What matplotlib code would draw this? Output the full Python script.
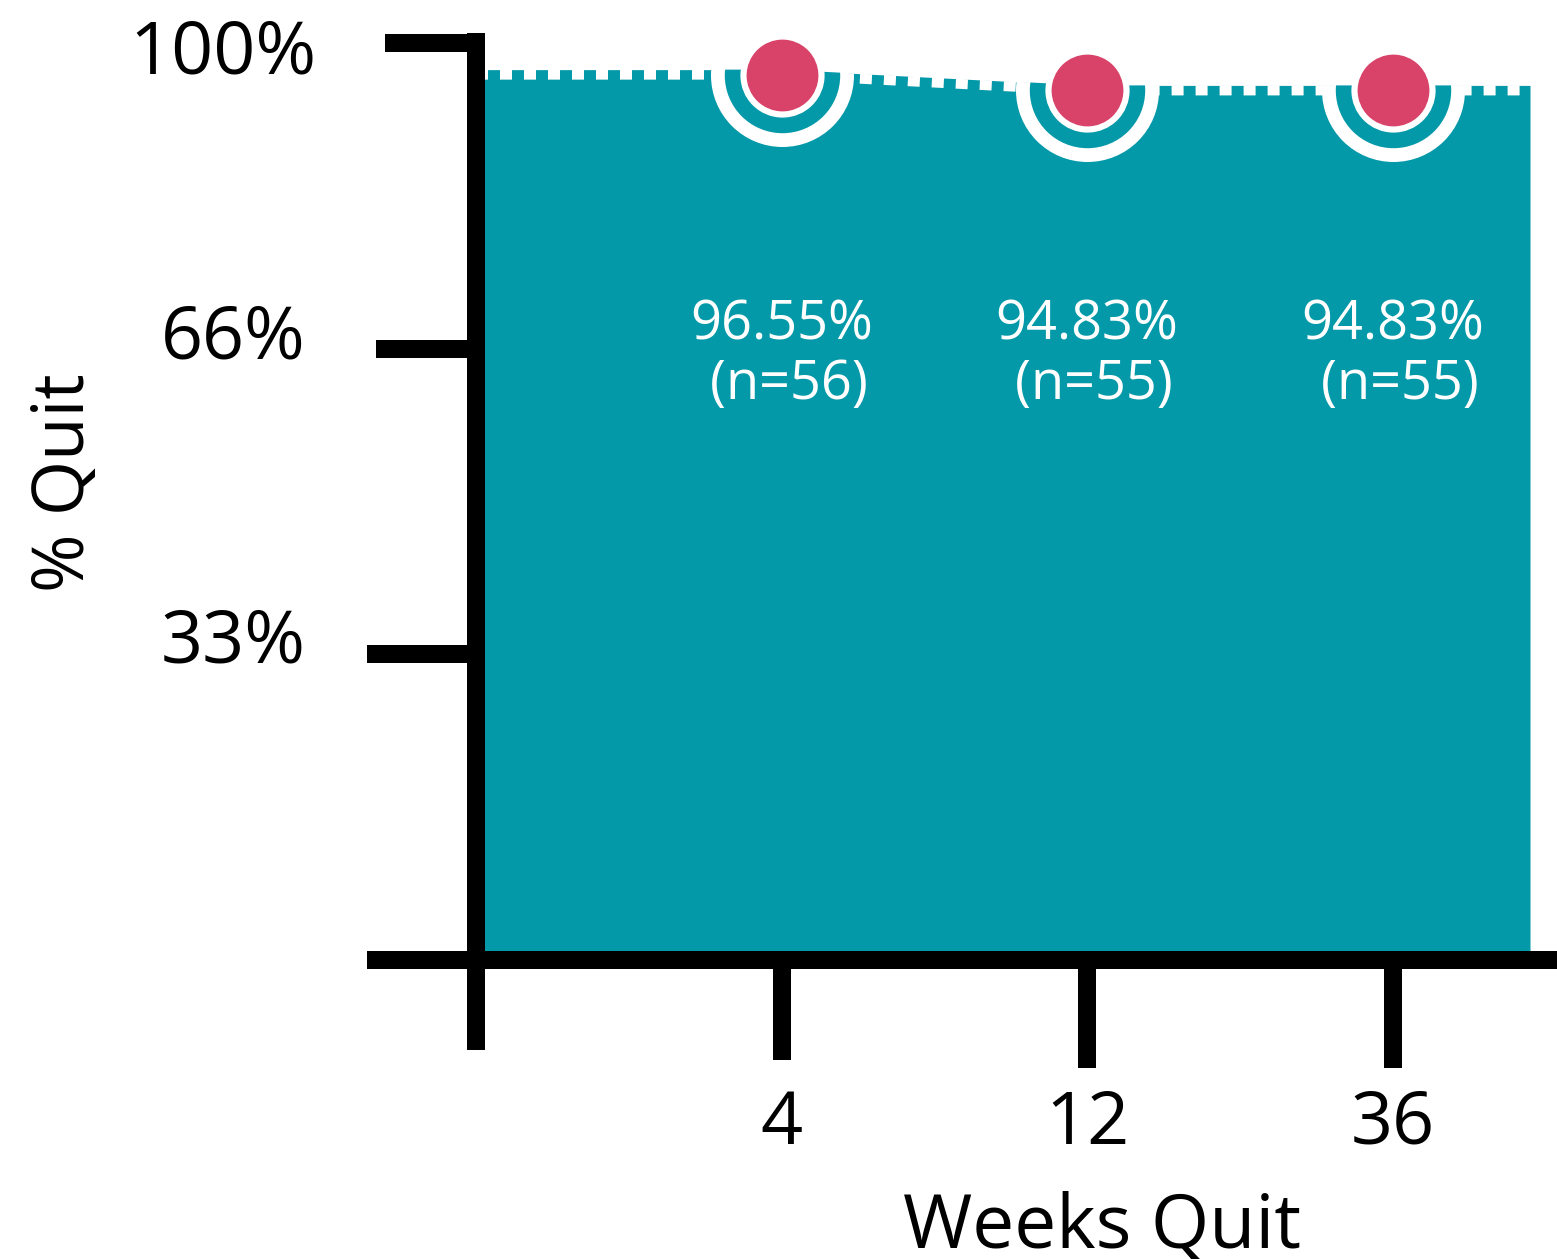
import matplotlib
matplotlib.use("Agg")
import matplotlib.pyplot as plt
import numpy as np
from matplotlib.transforms import ScaledTranslation

plt.rcParams['font.family'] = ['Open Sans', 'DejaVu Sans']
plt.rcParams['lines.scale_dashes'] = False

# quit rates at each follow-up
weeks = ["4", "12", "36"]
quit_pct = [96.55, 94.83, 94.83]
n_quit = [56, 55, 55]
y_ticks = [0, 100 / 3, 200 / 3, 100]
y_ticklabels = ["", "33%", "66%", "100%"]

TEAL = "#0399a8"
PINK = "#d9436a"
DPI = 100


def px(v):
    """pixels -> points"""
    return v * 72 / DPI


fig = plt.figure(figsize=(15.57, 12.59), dpi=DPI)
W, H = 1557, 1259
ax = fig.add_axes([476 / W, 299 / H, 1054 / W, 927 / H])
x_max = 3.45
y_top = 100 * 927 / 917
ax.set_xlim(0, x_max)
ax.set_ylim(0, y_top)

pos = np.arange(1, len(weeks) + 1)
# area runs flat out to both edges of the plot
xs = np.r_[0, pos, x_max]
ys = np.r_[quit_pct[0], quit_pct, quit_pct[-1]]

up = ax.transData + ScaledTranslation(0, 5 / DPI, fig.dpi_scale_trans)
area = ax.fill_between(xs, ys, color=TEAL, lw=0, transform=up, zorder=1)
ax.plot(xs, ys, color="white", lw=px(10), dashes=(px(12), px(12)),
        solid_capstyle="butt", zorder=2)

clip_path = area.get_paths()[0]
outer, = ax.plot(pos, quit_pct, "o", ms=px(143), mfc="white", mec="none", zorder=3)
inner, = ax.plot(pos, quit_pct, "o", ms=px(115.4), mfc=TEAL, mec="none", zorder=4)
for ln in (outer, inner):
    ln.set_clip_path(clip_path, area.get_transform())
ax.plot(pos, quit_pct, "o", ms=px(78), mfc=PINK, mec="white", mew=px(6.2),
        zorder=5, clip_on=False)

for x, v, n in zip(pos, quit_pct, n_quit):
    ax.text(x, 66.0, f"{v:.2f}%\n (n={n})", color="white", fontsize=39,
            ha="center", va="center", linespacing=1.12, zorder=6)

# axes
lw = px(18)
for side in ("top", "right"):
    ax.spines[side].set_visible(False)
ax.spines["left"].set_bounds(0, y_top)
ax.spines["bottom"].set_bounds(0, 3.54)
for side in ("left", "bottom"):
    ax.spines[side].set_linewidth(lw)
    ax.spines[side].set_capstyle("butt")
    ax.spines[side].set_zorder(7)

ax.set_xticks(np.r_[0, pos])
ax.set_xticklabels([""] + weeks)
ax.set_yticks(y_ticks)
ax.set_yticklabels(y_ticklabels)
ax.tick_params(axis="both", direction="out", width=lw, labelsize=53, colors="black")
ax.tick_params(axis="x", length=px(104), pad=px(24))
ax.tick_params(axis="y", length=px(100), pad=px(70))
# uneven tick lengths
for t, L in zip(ax.xaxis.get_major_ticks(), [90, 100, 108, 108]):
    t.tick1line.set_markersize(px(L))
for t, L in zip(ax.yaxis.get_major_ticks(), [109, 109, 100, 91]):
    t.tick1line.set_markersize(px(L))
# nudge the y labels a little
for t, dx, dy in zip(ax.yaxis.get_major_ticks(), [0, 0, 0, 10], [0, 20, 18, -3]):
    lab = t.label1
    lab.set_transform(lab.get_transform()
                      + ScaledTranslation(dx / DPI, dy / DPI, fig.dpi_scale_trans))

ax.set_xlabel("Weeks Quit", fontsize=54, va="center")
ax.xaxis.set_label_coords(0.594, -0.289)
ax.set_ylabel("% Quit", fontsize=51, va="center")
ax.yaxis.set_label_coords(-0.39, 0.515)

fig.savefig("out.png", dpi=DPI)
